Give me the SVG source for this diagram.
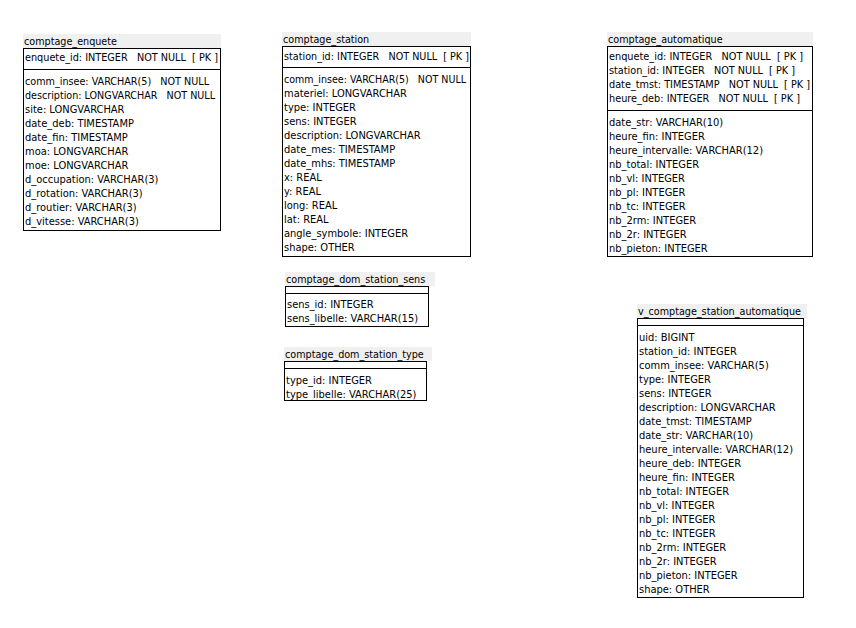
<svg xmlns="http://www.w3.org/2000/svg" width="856" height="628" viewBox="0 0 856 628">
<style>
text{font-family:"DejaVu Sans Condensed","DejaVu Sans","Liberation Sans",sans-serif;font-stretch:condensed;font-size:11px;fill:#000;white-space:pre}
.tt{font-size:10.7px}
.band{fill:#f0f0f0}
.box{fill:#fff;stroke:#000;stroke-width:1}
.sep{stroke:#000;stroke-width:1}
</style>
<rect width="856" height="628" fill="#fff"/>
<g id="connectors"/>

<g id="comptage_enquete">
<rect class="band" x="23" y="34" width="198" height="14"/>
<text class="tt" x="24" y="45">comptage_enquete</text>
<rect class="box" x="23.5" y="48.5" width="197" height="182"/>
<line class="sep" x1="23" y1="69.5" x2="221" y2="69.5"/>
<text x="25" y="61" textLength="193" lengthAdjust="spacingAndGlyphs">enquete_id: INTEGER   NOT NULL  [ PK ]</text>
<text x="25" y="85" textLength="184" lengthAdjust="spacingAndGlyphs">comm_insee: VARCHAR(5)   NOT NULL</text>
<text x="25" y="99" textLength="190" lengthAdjust="spacingAndGlyphs">description: LONGVARCHAR   NOT NULL</text>
<text x="25" y="113">site: LONGVARCHAR</text>
<text x="25" y="127">date_deb: TIMESTAMP</text>
<text x="25" y="141">date_fin: TIMESTAMP</text>
<text x="25" y="155">moa: LONGVARCHAR</text>
<text x="25" y="169">moe: LONGVARCHAR</text>
<text x="25" y="183">d_occupation: VARCHAR(3)</text>
<text x="25" y="197">d_rotation: VARCHAR(3)</text>
<text x="25" y="211">d_routier: VARCHAR(3)</text>
<text x="25" y="225">d_vitesse: VARCHAR(3)</text>
</g>

<g id="comptage_station">
<rect class="band" x="282" y="32" width="189" height="14"/>
<text class="tt" x="283" y="43">comptage_station</text>
<rect class="box" x="282.5" y="46.5" width="188" height="210"/>
<line class="sep" x1="282" y1="67.5" x2="471" y2="67.5"/>
<text x="284" y="60" textLength="185" lengthAdjust="spacingAndGlyphs">station_id: INTEGER   NOT NULL  [ PK ]</text>
<text x="284" y="83" textLength="182" lengthAdjust="spacingAndGlyphs">comm_insee: VARCHAR(5)   NOT NULL</text>
<text x="284" y="97">materiel: LONGVARCHAR</text>
<text x="284" y="111">type: INTEGER</text>
<text x="284" y="125">sens: INTEGER</text>
<text x="284" y="139">description: LONGVARCHAR</text>
<text x="284" y="153">date_mes: TIMESTAMP</text>
<text x="284" y="167">date_mhs: TIMESTAMP</text>
<text x="284" y="181">x: REAL</text>
<text x="284" y="195">y: REAL</text>
<text x="284" y="209">long: REAL</text>
<text x="284" y="223">lat: REAL</text>
<text x="284" y="237">angle_symbole: INTEGER</text>
<text x="284" y="251">shape: OTHER</text>
</g>

<g id="comptage_automatique">
<rect class="band" x="607" y="32" width="206" height="14"/>
<text class="tt" x="608" y="43">comptage_automatique</text>
<rect class="box" x="607.5" y="46.5" width="205" height="210"/>
<line class="sep" x1="607" y1="110.5" x2="813" y2="110.5"/>
<text x="609" y="60" textLength="194" lengthAdjust="spacingAndGlyphs">enquete_id: INTEGER   NOT NULL  [ PK ]</text>
<text x="609" y="74" textLength="186" lengthAdjust="spacingAndGlyphs">station_id: INTEGER   NOT NULL  [ PK ]</text>
<text x="609" y="88" textLength="201" lengthAdjust="spacingAndGlyphs">date_tmst: TIMESTAMP   NOT NULL  [ PK ]</text>
<text x="609" y="102" textLength="191" lengthAdjust="spacingAndGlyphs">heure_deb: INTEGER   NOT NULL  [ PK ]</text>
<text x="609" y="126">date_str: VARCHAR(10)</text>
<text x="609" y="140">heure_fin: INTEGER</text>
<text x="609" y="154">heure_intervalle: VARCHAR(12)</text>
<text x="609" y="168">nb_total: INTEGER</text>
<text x="609" y="182">nb_vl: INTEGER</text>
<text x="609" y="196">nb_pl: INTEGER</text>
<text x="609" y="210">nb_tc: INTEGER</text>
<text x="609" y="224">nb_2rm: INTEGER</text>
<text x="609" y="238">nb_2r: INTEGER</text>
<text x="609" y="252">nb_pieton: INTEGER</text>
</g>

<g id="comptage_dom_station_sens">
<rect class="band" x="285" y="272" width="150" height="14"/>
<text class="tt" x="286" y="283">comptage_dom_station_sens</text>
<rect class="box" x="285.5" y="286.5" width="143" height="40"/>
<line class="sep" x1="285" y1="293.5" x2="429" y2="293.5"/>
<text x="287" y="308">sens_id: INTEGER</text>
<text x="287" y="322">sens_libelle: VARCHAR(15)</text>
</g>

<g id="comptage_dom_station_type">
<rect class="band" x="284" y="347" width="148" height="14"/>
<text class="tt" x="285" y="358">comptage_dom_station_type</text>
<rect class="box" x="284.5" y="361.5" width="142" height="39"/>
<line class="sep" x1="284" y1="368.5" x2="427" y2="368.5"/>
<text x="286" y="384">type_id: INTEGER</text>
<text x="286" y="398">type_libelle: VARCHAR(25)</text>
</g>

<g id="v_comptage_station_automatique">
<rect class="band" x="637" y="304" width="170" height="14"/>
<text class="tt" x="638" y="315">v_comptage_station_automatique</text>
<rect class="box" x="637.5" y="318.5" width="166" height="279"/>
<line class="sep" x1="637" y1="325.5" x2="804" y2="325.5"/>
<text x="639" y="341">uid: BIGINT</text>
<text x="639" y="355">station_id: INTEGER</text>
<text x="639" y="369">comm_insee: VARCHAR(5)</text>
<text x="639" y="383">type: INTEGER</text>
<text x="639" y="397">sens: INTEGER</text>
<text x="639" y="411">description: LONGVARCHAR</text>
<text x="639" y="425">date_tmst: TIMESTAMP</text>
<text x="639" y="439">date_str: VARCHAR(10)</text>
<text x="639" y="453">heure_intervalle: VARCHAR(12)</text>
<text x="639" y="467">heure_deb: INTEGER</text>
<text x="639" y="481">heure_fin: INTEGER</text>
<text x="639" y="495">nb_total: INTEGER</text>
<text x="639" y="509">nb_vl: INTEGER</text>
<text x="639" y="523">nb_pl: INTEGER</text>
<text x="639" y="537">nb_tc: INTEGER</text>
<text x="639" y="551">nb_2rm: INTEGER</text>
<text x="639" y="565">nb_2r: INTEGER</text>
<text x="639" y="579">nb_pieton: INTEGER</text>
<text x="639" y="593">shape: OTHER</text>
</g>
</svg>
